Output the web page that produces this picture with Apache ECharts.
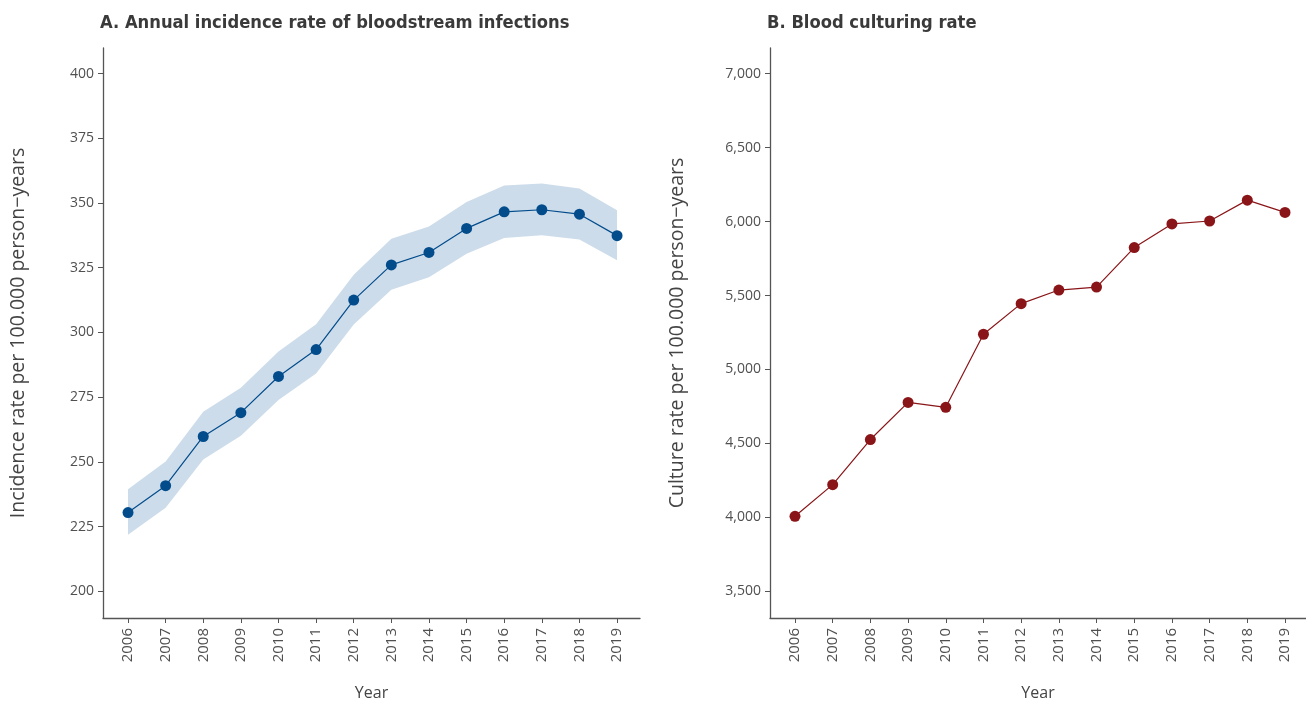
<!DOCTYPE html>
<html>
<head>
<meta charset="utf-8">
<script src="https://cdn.jsdelivr.net/npm/echarts@6/dist/echarts.min.js"></script>
<style>
  html, body { margin: 0; padding: 0; background: #fff; }
  #chart { width: 1306px; height: 706px; }
</style>
</head>
<body>
<div id="chart"></div>
<script>
// ---- data ----
const years = [2006, 2007, 2008, 2009, 2010, 2011, 2012, 2013, 2014, 2015, 2016, 2017, 2018, 2019];
const incidence = [230.4, 240.8, 259.8, 269.0, 283.0, 293.4, 312.5, 326.1, 330.9, 340.2, 346.6, 347.4, 345.7, 337.4];
const incidenceUpper = [239.4, 250.1, 269.4, 278.6, 292.6, 303.2, 322.3, 336.2, 340.9, 350.4, 356.8, 357.5, 355.6, 347.2];
const incidenceLower = [221.8, 232.3, 250.9, 260.1, 273.9, 284.1, 303.1, 316.5, 321.3, 330.4, 336.5, 337.6, 335.9, 327.9];
const cultureRate = [4007, 4221, 4526, 4777, 4744, 5238, 5445, 5537, 5557, 5824, 5984, 6004, 6145, 6062];
const ticksA = [200, 225, 250, 275, 300, 325, 350, 375, 400];
const ticksB = [3500, 4000, 4500, 5000, 5500, 6000, 6500, 7000];

const titleA = 'A. Annual incidence rate of bloodstream infections';
const titleB = 'B. Blood culturing rate';
const yNameA = 'Incidence rate per 100.000 person\u2212years';
const yNameB = 'Culture rate per 100.000 person\u2212years';
const xName = 'Year';

// ---- style ----
const axisCol = '#555555';
const labelCol = '#505050';
const blue = '#024c8c';
const band = '#cddcea';
const red = '#8a1518';
const fontLabel = '"Open Sans", sans-serif';
const fontTitle = '"DejaVu Sans Condensed", "DejaVu Sans", sans-serif';

function xAxisCfg(gridIndex, min, max) {
  return {
    type: 'value', gridIndex, min, max,
    name: xName, nameLocation: 'middle', nameGap: 67,
    nameTextStyle: { fontFamily: fontLabel, fontSize: 16, color: '#444' },
    axisLine: { show: true, lineStyle: { color: axisCol, width: 1.3 } },
    axisTick: { show: true, length: 5, lineStyle: { color: axisCol }, customValues: years },
    axisLabel: { rotate: 90, margin: 10, fontFamily: fontLabel, fontSize: 15, color: labelCol,
                 customValues: years, formatter: v => String(v) },
    splitLine: { show: false }
  };
}
function yAxisCfg(gridIndex, min, max, ticks, name, gap, fmt) {
  return {
    type: 'value', gridIndex, min, max,
    name, nameLocation: 'middle', nameGap: gap,
    nameTextStyle: { fontFamily: fontLabel, fontSize: 19.5, color: '#444' },
    axisLine: { show: true, lineStyle: { color: axisCol, width: 1.3 } },
    axisTick: { show: true, length: 5, lineStyle: { color: axisCol }, customValues: ticks },
    axisLabel: { margin: 9, fontFamily: fontLabel, fontSize: 14, color: labelCol,
                 customValues: ticks, formatter: fmt },
    splitLine: { show: false }
  };
}

const chart = echarts.init(document.getElementById('chart'), null, { renderer: 'canvas' });
const option = {
  animation: false,
  backgroundColor: '#ffffff',
  title: [
    { text: titleA, left: 95, top: 9, textStyle: { fontFamily: fontTitle, fontWeight: 'bold', fontSize: 18.2, color: '#3a3a3a' } },
    { text: titleB, left: 762, top: 9, textStyle: { fontFamily: fontTitle, fontWeight: 'bold', fontSize: 18.2, color: '#3a3a3a' } }
  ],
  grid: [
    { left: 103, top: 48, width: 537, height: 576 },
    { left: 770, top: 48, width: 536, height: 576 }
  ],
  xAxis: [
    xAxisCfg(0, 2005.335, 2019.61),
    xAxisCfg(1, 2005.337, 2019.557)
  ],
  yAxis: [
    yAxisCfg(0, 189.67, 409.9, ticksA, yNameA, 75, v => String(v)),
    yAxisCfg(1, 3319, 7174, ticksB, yNameB, 83, v => v.toLocaleString('en-US'))
  ],
  series: [
    {
      type: 'custom', xAxisIndex: 0, yAxisIndex: 0, silent: true, z: 1,
      data: [0],
      renderItem: function (params, api) {
        const pts = [];
        for (let i = 0; i < years.length; i++) pts.push(api.coord([years[i], incidenceUpper[i]]));
        for (let i = years.length - 1; i >= 0; i--) pts.push(api.coord([years[i], incidenceLower[i]]));
        return { type: 'polygon', shape: { points: pts }, style: { fill: band } };
      }
    },
    {
      type: 'line', xAxisIndex: 0, yAxisIndex: 0, z: 3,
      data: years.map((y, i) => [y, incidence[i]]),
      symbol: 'circle', symbolSize: 11,
      lineStyle: { color: blue, width: 1.2 }, itemStyle: { color: blue }
    },
    {
      type: 'line', xAxisIndex: 1, yAxisIndex: 1, z: 3,
      data: years.map((y, i) => [y, cultureRate[i]]),
      symbol: 'circle', symbolSize: 11,
      lineStyle: { color: red, width: 1.2 }, itemStyle: { color: red }
    }
  ]
};
chart.setOption(option);
</script>
</body>
</html>
